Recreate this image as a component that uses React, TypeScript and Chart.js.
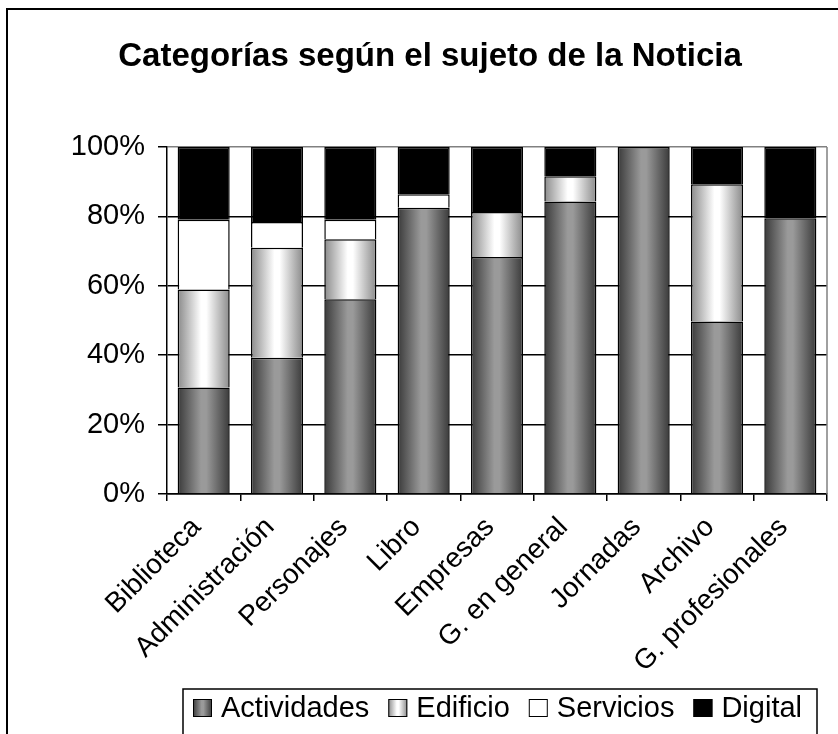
import React, { useEffect, useRef } from 'react';
import { Chart, registerables } from 'chart.js';

Chart.register(...registerables);

const chartTitle = 'Categorías según el sujeto de la Noticia';
const categories = [
  'Biblioteca',
  'Administración',
  'Personajes',
  'Libro',
  'Empresas',
  'G. en general',
  'Jornadas',
  'Archivo',
  'G. profesionales',
];
const seriesNames = ['Actividades', 'Edificio', 'Servicios', 'Digital'];
const actividades = [30.7, 39.3, 56.1, 82.5, 68.3, 84.3, 100, 49.7, 79.5];
const edificio = [28.2, 31.7, 17.3, 0, 13.0, 7.3, 0, 39.6, 0];
const servicios = [20.1, 7.4, 5.6, 3.9, 0, 0, 0, 0, 0];
const digital = [21.0, 21.6, 21.0, 13.6, 18.7, 8.4, 0, 10.7, 20.5];
const yTickValues = [0, 20, 40, 60, 80, 100];

const FONT = '"Liberation Sans", Arial, Helvetica, sans-serif';
const BAR_PCT = 0.71;

type Kind = 'dark' | 'light' | 'white' | 'black';

function makeFill(ctx: CanvasRenderingContext2D, x0: number, x1: number, kind: Kind): any {
  if (kind === 'white') return '#ffffff';
  if (kind === 'black') return '#000000';
  const g = ctx.createLinearGradient(x0, 0, x1, 0);
  if (kind === 'dark') {
    g.addColorStop(0, '#3a3a3a');
    g.addColorStop(0.45, '#9a9a9a');
    g.addColorStop(0.55, '#9a9a9a');
    g.addColorStop(1, '#3a3a3a');
  } else {
    g.addColorStop(0, '#8a8a8a');
    g.addColorStop(0.45, '#ffffff');
    g.addColorStop(0.55, '#ffffff');
    g.addColorStop(1, '#8a8a8a');
  }
  return g;
}

const kinds: Kind[] = ['dark', 'light', 'white', 'black'];
const solidFallback = ['#777777', '#dddddd', '#ffffff', '#000000'];

function scriptedFill(seriesIndex: number) {
  return (c: any) => {
    const chart = c.chart;
    const xs = chart.scales && chart.scales.x;
    if (!xs || !(xs.width > 0) || c.dataIndex === undefined) return solidFallback[seriesIndex];
    const center = xs.getPixelForValue(c.dataIndex);
    const w = (xs.width / categories.length) * BAR_PCT;
    return makeFill(chart.ctx, center - w / 2, center + w / 2, kinds[seriesIndex]);
  };
}

const decorPlugin = {
  id: 'decor',
  afterDraw(chart: any) {
    const ctx: CanvasRenderingContext2D = chart.ctx;
    const area = chart.chartArea;
    ctx.save();
    // plot area right border (grey)
    ctx.strokeStyle = '#808080';
    ctx.lineWidth = 1.5;
    ctx.beginPath();
    ctx.moveTo(area.right, area.top);
    ctx.lineTo(area.right, area.bottom);
    ctx.stroke();

    // outer frame
    ctx.strokeStyle = '#000';
    ctx.lineWidth = 2;
    ctx.strokeRect(7, 9, 1000, 1000);

    // title
    ctx.fillStyle = '#000';
    ctx.font = `bold 33px ${FONT}`;
    ctx.textAlign = 'center';
    ctx.textBaseline = 'middle';
    ctx.fillText(chartTitle, 430, 57);

    // legend box
    ctx.lineWidth = 1.5;
    ctx.strokeRect(183, 689, 634, 100);

    // legend items
    ctx.font = `29px ${FONT}`;
    ctx.textAlign = 'left';
    ctx.textBaseline = 'middle';
    let x = 193;
    const sw = 19;
    const top = 699;
    chart.data.datasets.forEach((ds: any, i: number) => {
      ctx.fillStyle = makeFill(ctx, x, x + sw, kinds[i]);
      ctx.fillRect(x, top, sw, 18);
      ctx.strokeStyle = '#000';
      ctx.lineWidth = 1;
      ctx.strokeRect(x + 0.5, top + 0.5, sw - 1, 17);
      ctx.fillStyle = '#000';
      ctx.fillText(ds.label, x + sw + 9, top + 10);
      x += sw + 9 + ctx.measureText(ds.label).width + 19;
    });
    ctx.restore();
  },
};

export default function App() {
  const ref = useRef<HTMLCanvasElement>(null);

  useEffect(() => {
    if (!ref.current) return;
    const seriesData = [actividades, edificio, servicios, digital];
    const chart = new Chart(ref.current, {
      type: 'bar',
      data: {
        labels: categories,
        datasets: seriesNames.map((name, i) => ({
          label: name,
          data: seriesData[i].map((v) => (v > 0 ? v : null)),
          backgroundColor: scriptedFill(i),
          borderColor: '#000',
          borderWidth: 1.5,
          barPercentage: BAR_PCT,
          categoryPercentage: 1,
        })),
      },
      options: {
        responsive: false,
        animation: false,
        layout: { padding: { left: 0, right: 11, top: 147, bottom: 0 } },
        plugins: {
          legend: { display: false },
          title: { display: false },
          tooltip: { enabled: false },
        },
        scales: {
          x: {
            stacked: true,
            offset: true,
            grid: {
              display: true,
              drawOnChartArea: false,
              drawTicks: true,
              tickLength: 7,
              color: '#000',
              lineWidth: 1.5,
              offset: true,
            },
            border: { display: true, color: '#000', width: 1.5 },
            ticks: {
              color: '#000',
              font: { family: FONT, size: 28 },
              minRotation: 45,
              maxRotation: 45,
              autoSkip: false,
              padding: 10,
              labelOffset: -7,
            },
            afterFit: (s: any) => {
              s.height = 240;
            },
          },
          y: {
            stacked: true,
            min: 0,
            max: 100,
            afterBuildTicks: (s: any) => {
              s.ticks = yTickValues.map((v) => ({ value: v }));
            },
            grid: {
              color: (c: any) => (c.tick && c.tick.value === 100 ? '#808080' : '#000'),
              lineWidth: 1.5,
              tickLength: 9,
              tickColor: '#000',
            },
            border: { display: true, color: '#000', width: 1.5 },
            ticks: {
              color: '#000',
              font: { family: FONT, size: 29 },
              padding: 13,
              callback: (v: any) => v + '%',
            },
            afterFit: (s: any) => {
              s.width = 167;
            },
          },
        },
      },
      plugins: [decorPlugin],
    });
    return () => chart.destroy();
  }, []);

  return (
    <div style={{ position: 'absolute', left: 0, top: 0, width: 838, height: 734, background: '#fff' }}>
      <canvas ref={ref} width={838} height={734} style={{ display: 'block' }} />
    </div>
  );
}
